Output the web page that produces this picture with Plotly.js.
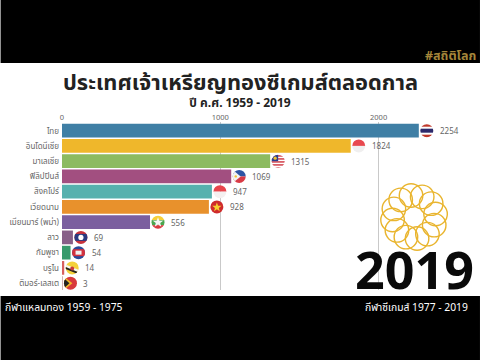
<!DOCTYPE html>
<html><head><meta charset="utf-8">
<script src="https://cdn.plot.ly/plotly-3.0.1.min.js"></script>
<style>html,body{margin:0;padding:0;background:#fff}#c{width:480px;height:360px}</style>
</head><body><div id="c"></div>
<script>
const countries=["ไทย","อินโดนีเซีย","มาเลเซีย","ฟิลิปปินส์","สิงคโปร์","เวียดนาม","เมียนมาร์ (พม่า)","ลาว","กัมพูชา","บรูไน","ติมอร์-เลสเต"];
const golds=[2254,1824,1315,1069,947,928,556,69,54,14,3];
const barColors=["#3f7fa5","#efb72b","#8cbb60","#a24f80","#56b1ae","#e8912c","#7b5f9f","#875f88","#379a6c","#d8605f","#a05a5a"];
const xTicks=[0,1000,2000];
const FONT="'Noto Sans','Noto Sans Thai','Noto Sans CJK SC',sans-serif";

const flagBodies=[
 '<rect y="1" width="16" height="14" fill="#fff"/><rect y="1" width="16" height="3" fill="#c0392b"/><rect y="12" width="16" height="3" fill="#c0392b"/><rect y="6" width="16" height="4" fill="#2d2a6b"/>',
 '<rect width="16" height="8" fill="#e8494f"/><rect y="8" width="16" height="8" fill="#f0efef"/>',
 '<rect width="16" height="16" fill="#fff"/><g fill="#d2404a"><rect y="2" width="16" height="1.5"/><rect y="5" width="16" height="1.5"/><rect y="8" width="16" height="1.5"/><rect y="11" width="16" height="1.5"/><rect y="14" width="16" height="1.5"/></g><rect width="8" height="8" fill="#2c3f8f"/><circle cx="5" cy="5" r="1.6" fill="#f2c230"/>',
 '<rect width="16" height="8" fill="#2f55a4"/><rect y="8" width="16" height="8" fill="#d93a45"/><path d="M1 1L9.5 8L1 15Z" fill="#f2f2f2"/><circle cx="4.5" cy="8" r="1.2" fill="#f2c230"/>',
 '<rect width="16" height="8" fill="#e8454c"/><rect y="8" width="16" height="8" fill="#f4f0f0"/>',
 '<rect width="16" height="16" fill="#cf2b2b"/><path d="M8 3.6l1.2 3.3h3.5l-2.8 2.1 1 3.4L8 10.4l-2.9 2 1-3.4-2.8-2.1h3.5z" fill="#f6d02f"/>',
 '<rect width="16" height="6" fill="#f5cf3a"/><rect y="6" width="16" height="5" fill="#4aa64f"/><rect y="11" width="16" height="5" fill="#d8393f"/><path d="M8 3l1.4 3.6h3.8l-3 2.3 1.1 3.6L8 10.4l-3.3 2.1 1.1-3.6-3-2.3h3.8z" fill="#f6f6f6"/>',
 '<rect width="16" height="16" fill="#c8323c"/><rect y="4.5" width="16" height="7" fill="#2a3a80"/><circle cx="8" cy="8" r="2.6" fill="#fff"/>',
 '<rect width="16" height="16" fill="#2a4a9a"/><rect y="4.5" width="16" height="7" fill="#d3323e"/><rect x="5" y="6" width="6" height="4" fill="#f1f1f1"/>',
 '<rect width="16" height="16" fill="#f4d13c"/><path d="M0 4L16 10.5V13L0 6.5Z" fill="#f5f5f5"/><path d="M0 6.5L16 13V15L0 8.5Z" fill="#222"/><circle cx="8" cy="8.6" r="2" fill="#c8393c"/>',
 '<rect width="16" height="16" fill="#d8393c"/><path d="M1 1L10 8L1 15Z" fill="#f0b82c"/><path d="M1 2.5L7 8L1 13.5Z" fill="#222"/>'
];
const flagUri=b=>'data:image/svg+xml;utf8,'+encodeURIComponent('<svg xmlns="http://www.w3.org/2000/svg" width="160" height="160" viewBox="0 0 16 16"><defs><clipPath id="k"><circle cx="8" cy="8" r="6.5"/></clipPath></defs><g clip-path="url(#k)">'+b+'</g></svg>');

let petals='';
for(let i=0;i<12;i++){const a=(i*30-8)*Math.PI/180;petals+=`<circle cx="${50+29*Math.cos(a)}" cy="${50+29*Math.sin(a)}" r="15.7" fill="none" stroke="#e9b52f" stroke-width="1.9"/>`;}
const wreath='data:image/svg+xml;utf8,'+encodeURIComponent(`<svg xmlns="http://www.w3.org/2000/svg" width="400" height="400" viewBox="0 0 100 100">${petals}</svg>`);

const pxX=0.1585, pxY=15.25;
const paperX=p=>(p-61.5)/398.5, paperY=p=>(290-p)/168;
const images=countries.map((c,i)=>({source:flagUri(flagBodies[i]),xref:'x',yref:'y',x:golds[i],y:c,sizex:16/pxX,sizey:16/pxY,xanchor:'left',yanchor:'middle',sizing:'contain',layer:'above'}));
images.push({source:wreath,xref:'paper',yref:'paper',x:paperX(376.5),y:paperY(179.5),sizex:75/398.5,sizey:75/168,xanchor:'left',yanchor:'top',sizing:'contain',layer:'above'});

const ann=countries.map((c,i)=>({x:golds[i],y:c,xref:'x',yref:'y',text:String(golds[i]),xanchor:'left',xshift:19,showarrow:false,font:{family:FONT,size:8,color:'#666'}}));
const txt=(t,x,y,size,color,anchor,extra={})=>({text:t,x:paperX(x),y:paperY(y),xref:'paper',yref:'paper',xanchor:anchor,yanchor:'middle',showarrow:false,font:Object.assign({family:FONT,size:size,color:color},extra)});
ann.push(txt('<b>ประเทศเจ้าเหรียญทองซีเกมส์ตลอดกาล</b>',240,81,21.8,'#222','center'));
ann.push(txt('<b>ปี ค.ศ. 1959 - 2019</b>',240,102,12,'#222','center'));
ann.push(txt('<b>2019</b>',414,268,52,'#0a0a0a','center'));
ann.push(txt('<b>#สถิติโลก</b>',478,55,12.5,'#a5863a','right'));
ann.push(txt('กีฬาแหลมทอง 1959 - 1975',2,307,10.3,'#fff','left'));
ann.push(txt('กีฬาซีเกมส์ 1977 - 2019',470,307,10.3,'#fff','right'));

const shapes=[
 {type:'rect',xref:'paper',yref:'paper',x0:paperX(0),x1:paperX(480),y0:paperY(63),y1:paperY(0),fillcolor:'#000',line:{width:0},layer:'below'},
 {type:'rect',xref:'paper',yref:'paper',x0:paperX(0),x1:paperX(480),y0:paperY(360),y1:paperY(296),fillcolor:'#000',line:{width:0},layer:'below'}
];

Plotly.newPlot('c',[{type:'bar',orientation:'h',y:countries,x:golds,marker:{color:barColors,line:{width:0}},width:0.9,hoverinfo:'skip'}],{
 width:480,height:360,paper_bgcolor:'#fff',plot_bgcolor:'rgba(0,0,0,0)',showlegend:false,
 margin:{l:61.5,r:20,t:122,b:70,pad:0},
 xaxis:{side:'top',range:[0,398.5/pxX],tickvals:xTicks,ticktext:xTicks.map(String),showgrid:true,gridcolor:'#c9c9c9',gridwidth:1,zeroline:false,showline:false,ticks:'',tickfont:{family:FONT,size:7.5,color:'#666'}},
 yaxis:{type:'category',categoryorder:'array',categoryarray:countries,range:[10.45,-0.57],showgrid:false,zeroline:false,showline:false,ticks:'',ticklabelstandoff:2,tickfont:{family:FONT,size:8,color:'#666'}},
 images:images,annotations:ann,shapes:shapes
},{staticPlot:true,displayModeBar:false});
</script></body></html>
